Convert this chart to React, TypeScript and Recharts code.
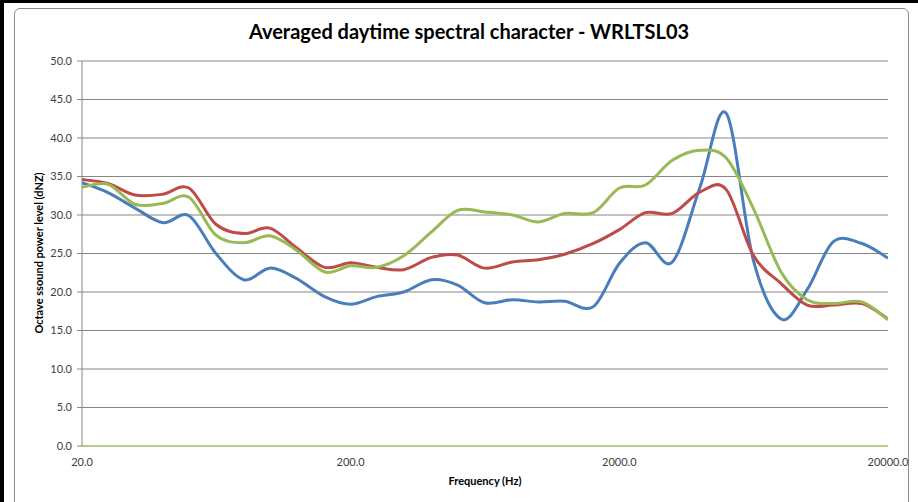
import React from 'react';
import { LineChart, Line, XAxis, YAxis, CartesianGrid } from 'recharts';

// 1/3 octave band centres (Hz)
const FREQS = [
  20, 25, 31.5, 40, 50, 63, 80, 100, 125, 160, 200, 250, 315, 400, 500, 630, 800, 1000,
  1250, 1600, 2000, 2500, 3150, 4000, 5000, 6300, 8000, 10000, 12500, 16000, 20000,
];

const BLUE = [
  34.2, 32.9, 30.9, 29.0, 29.9, 25.0, 21.6, 23.1, 21.8, 19.4, 18.4, 19.4, 20.0, 21.6, 20.9,
  18.6, 19.0, 18.7, 18.8, 18.1, 23.7, 26.4, 23.9, 33.7, 43.2, 24.2, 16.5, 20.3, 26.5, 26.3, 24.4,
];

const RED = [
  34.6, 34.1, 32.6, 32.7, 33.5, 28.8, 27.6, 28.3, 25.8, 23.2, 23.8, 23.2, 22.9, 24.5, 24.8,
  23.1, 23.9, 24.2, 24.9, 26.3, 28.1, 30.3, 30.2, 33.0, 33.3, 24.8, 21.1, 18.3, 18.3, 18.5, 16.5,
];

const GREEN = [
  33.6, 34.0, 31.4, 31.5, 32.3, 27.4, 26.4, 27.3, 25.5, 22.6, 23.4, 23.2, 24.7, 27.8, 30.6,
  30.4, 30.0, 29.1, 30.2, 30.3, 33.5, 33.9, 37.1, 38.4, 37.4, 30.9, 22.6, 19.0, 18.5, 18.7, 16.4,
];

const BASE = FREQS.map(() => 0);

const X_TICKS = [20, 200, 2000, 20000];
const Y_TICKS = [0, 5, 10, 15, 20, 25, 30, 35, 40, 45, 50];

const data = FREQS.map((f, i) => ({
  f,
  blue: BLUE[i],
  red: RED[i],
  green: GREEN[i],
  base: BASE[i],
}));

// Excel style smoothed line (Catmull-Rom through every point)
const smooth = (context: any) => {
  let pts: number[][] = [];
  return {
    areaStart() {},
    areaEnd() {},
    lineStart() {
      pts = [];
    },
    point(x: number, y: number) {
      pts.push([+x, +y]);
    },
    lineEnd() {
      const n = pts.length;
      if (!n) return;
      context.moveTo(pts[0][0], pts[0][1]);
      for (let i = 0; i < n - 1; i++) {
        const p0 = pts[Math.max(i - 1, 0)];
        const p1 = pts[i];
        const p2 = pts[i + 1];
        const p3 = pts[Math.min(i + 2, n - 1)];
        context.bezierCurveTo(
          p1[0] + (p2[0] - p0[0]) / 6,
          p1[1] + (p2[1] - p0[1]) / 6,
          p2[0] - (p3[0] - p1[0]) / 6,
          p2[1] - (p3[1] - p1[1]) / 6,
          p2[0],
          p2[1]
        );
      }
    },
  };
};

const font = 'Lato, "Open Sans", sans-serif';
const tickStyle = { fontSize: 11, fill: '#404040', fontFamily: font };

export default function App() {
  return (
    <div
      style={{
        position: 'absolute',
        left: 0,
        top: 0,
        width: 918,
        height: 502,
        background: '#fff',
        overflow: 'hidden',
        fontFamily: font,
      }}
    >
      <div style={{ position: 'absolute', left: 0, top: 0, width: 918, height: 3, background: '#000' }} />
      <div style={{ position: 'absolute', left: 0, top: 0, width: 4, height: 502, background: '#000' }} />
      <div
        style={{
          position: 'absolute',
          left: 14,
          top: 8,
          width: 893,
          height: 520,
          border: '1px solid #8c8c8c',
          borderRadius: 6,
        }}
      />
      <div
        style={{
          position: 'absolute',
          left: 0,
          width: 938,
          top: 19,
          textAlign: 'center',
          fontSize: 20,
          fontWeight: 700,
          color: '#000',
        }}
      >
        Averaged daytime spectral character - WRLTSL03
      </div>
      <div style={{ position: 'absolute', left: 0, top: 0 }}>
        <LineChart width={918} height={502} data={data} margin={{ top: 61, right: 30, left: 0, bottom: 26 }}>
          <CartesianGrid vertical={false} stroke="#868686" strokeWidth={1} />
          <XAxis
            dataKey="f"
            type="number"
            scale="log"
            domain={[20, 20000]}
            ticks={X_TICKS}
            tickFormatter={(v: number) => v.toFixed(1)}
            tick={tickStyle}
            axisLine={false}
            tickLine={false}
            tickMargin={6}
            height={30}
            allowDataOverflow
          />
          <YAxis
            type="number"
            domain={[0, 50]}
            ticks={Y_TICKS}
            tickFormatter={(v: number) => v.toFixed(1)}
            tick={tickStyle}
            axisLine={{ stroke: '#868686' }}
            tickLine={{ stroke: '#868686' }}
            tickSize={5}
            tickMargin={5}
            width={82}
          />
          <Line dataKey="base" type={smooth as any} stroke="#b3cf8a" strokeWidth={2} dot={false} isAnimationActive={false} />
          <Line dataKey="blue" type={smooth as any} stroke="#4a7ebb" strokeWidth={3} dot={false} isAnimationActive={false} />
          <Line dataKey="red" type={smooth as any} stroke="#be4b48" strokeWidth={3} dot={false} isAnimationActive={false} />
          <Line dataKey="green" type={smooth as any} stroke="#98b954" strokeWidth={3} dot={false} isAnimationActive={false} />
        </LineChart>
      </div>
      <div
        style={{
          position: 'absolute',
          left: 0,
          width: 970,
          top: 474,
          textAlign: 'center',
          fontSize: 11,
          fontWeight: 700,
          color: '#000',
        }}
      >
        Frequency (Hz)
      </div>
      <div
        style={{
          position: 'absolute',
          left: 38,
          top: 253,
          transform: 'translate(-50%, -50%) rotate(-90deg)',
          whiteSpace: 'nowrap',
          fontSize: 11,
          fontWeight: 700,
          color: '#000',
        }}
      >
        Octave ssound power level (dNZ)
      </div>
    </div>
  );
}
